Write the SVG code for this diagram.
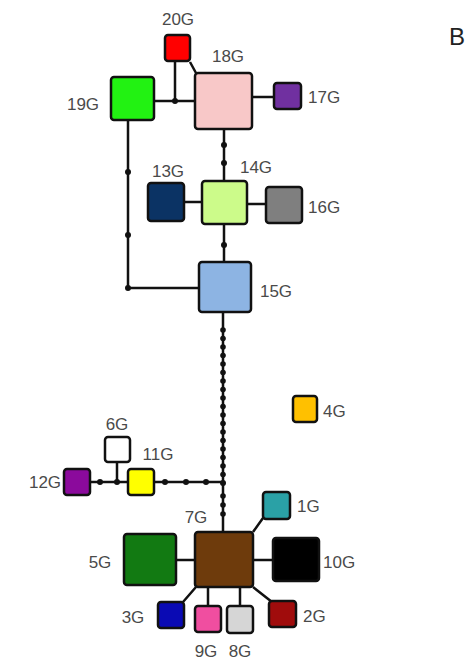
<svg xmlns="http://www.w3.org/2000/svg" width="469" height="668" viewBox="0 0 469 668">
<style>
.n{stroke:#111;stroke-width:2.5}
.l{fill:none;stroke:#111;stroke-width:2.5}
.t{font-family:"Liberation Sans",Arial,sans-serif;font-size:17px;fill:#4a4a4a}
.d{fill:#111}
</style>
<rect width="469" height="668" fill="#fff"/>
<g id="connectors">
<path class="l" d="M154 101H195M175 62V101M190 62L196 73M252 97H274"/>
<path class="l" d="M128 120V288H199M224 129V181M184 202H202M247 204H266M224 224V262"/>
<path class="l" d="M223 312V532M90 482H223M117 462V482M253 532L263 518"/>
<path class="l" d="M176 560H195M253 560H273M196 587L183 602M208 587V606M240 587V606M253 587L272 602"/>
<g class="d">
<circle cx="175" cy="101" r="3"/>
<circle cx="128" cy="172" r="3"/><circle cx="128" cy="235" r="3"/><circle cx="128" cy="288" r="3"/>
<circle cx="224" cy="145" r="3"/><circle cx="224" cy="163" r="3"/><circle cx="224" cy="245" r="3"/>
<circle cx="223" cy="330" r="2.8"/><circle cx="223" cy="338.5" r="2.8"/><circle cx="223" cy="347" r="2.8"/><circle cx="223" cy="355.5" r="2.8"/><circle cx="223" cy="364" r="2.8"/><circle cx="223" cy="372.5" r="2.8"/><circle cx="223" cy="381" r="2.8"/><circle cx="223" cy="389.5" r="2.8"/><circle cx="223" cy="398" r="2.8"/><circle cx="223" cy="406.5" r="2.8"/><circle cx="223" cy="415" r="2.8"/><circle cx="223" cy="423.5" r="2.8"/><circle cx="223" cy="432" r="2.8"/><circle cx="223" cy="440.5" r="2.8"/><circle cx="223" cy="449" r="2.8"/><circle cx="223" cy="457.5" r="2.8"/><circle cx="223" cy="466" r="2.8"/><circle cx="223" cy="474.5" r="2.8"/>
<circle cx="223" cy="483" r="3"/><circle cx="223" cy="496" r="2.8"/><circle cx="223" cy="505" r="2.8"/><circle cx="223" cy="514" r="2.8"/>
<circle cx="100" cy="482" r="3"/><circle cx="117" cy="482" r="3"/><circle cx="165" cy="482" r="3"/><circle cx="186" cy="482" r="3"/><circle cx="206" cy="482" r="3"/>
</g>
</g>
<g id="n20"><rect class="n" x="165" y="35" width="25" height="26" rx="3" fill="#f00"/><text class="t" x="178" y="25" text-anchor="middle">20G</text></g>
<g id="n18"><rect class="n" x="195" y="73" width="57" height="56" rx="3" fill="#f8c8c8"/><text class="t" x="228" y="62" text-anchor="middle">18G</text></g>
<g id="n19"><rect class="n" x="111" y="77" width="43" height="43" rx="3" fill="#22f212"/><text class="t" x="83" y="110" text-anchor="middle">19G</text></g>
<g id="n17"><rect class="n" x="274" y="83" width="27" height="26" rx="3" fill="#7030a0"/><text class="t" x="308" y="103">17G</text></g>
<g id="n14"><rect class="n" x="202" y="181" width="45" height="43" rx="3" fill="#ccfb8a"/><text class="t" x="256" y="173" text-anchor="middle">14G</text></g>
<g id="n13"><rect class="n" x="148" y="183" width="36" height="38" rx="3" fill="#0b3364"/><text class="t" x="168" y="177" text-anchor="middle">13G</text></g>
<g id="n16"><rect class="n" x="266" y="187" width="36" height="36" rx="3" fill="#7f7f7f"/><text class="t" x="308" y="213">16G</text></g>
<g id="n15"><rect class="n" x="199" y="262" width="52" height="50" rx="3" fill="#8db4e3"/><text class="t" x="276" y="297" text-anchor="middle">15G</text></g>
<g id="n4"><rect class="n" x="293" y="396" width="24" height="26" rx="3" fill="#ffc000"/><text class="t" x="323" y="417">4G</text></g>
<g id="n6"><rect class="n" x="105" y="437" width="25" height="25" rx="3" fill="#fff"/><text class="t" x="117" y="430" text-anchor="middle">6G</text></g>
<g id="n12"><rect class="n" x="64" y="469" width="26" height="26" rx="3" fill="#8b0a9c"/><text class="t" x="45" y="488" text-anchor="middle">12G</text></g>
<g id="n11"><rect class="n" x="128" y="469" width="26" height="26" rx="3" fill="#ffff00"/><text class="t" x="158" y="460" text-anchor="middle">11G</text></g>
<g id="n1"><rect class="n" x="263" y="492" width="27" height="27" rx="3" fill="#2aa1a6"/><text class="t" x="297" y="512">1G</text></g>
<g id="n7"><rect class="n" x="195" y="532" width="58" height="55" rx="3" fill="#6e3b0c"/><text class="t" x="196" y="523" text-anchor="middle">7G</text></g>
<g id="n5"><rect class="n" x="124" y="534" width="52" height="51" rx="3" fill="#127a12"/><text class="t" x="100" y="568" text-anchor="middle">5G</text></g>
<g id="n10"><rect class="n" x="273" y="538" width="46" height="43" rx="3" fill="#000"/><text class="t" x="323" y="568">10G</text></g>
<g id="n3"><rect class="n" x="158" y="602" width="26" height="26" rx="3" fill="#0a0ab4"/><text class="t" x="133" y="623" text-anchor="middle">3G</text></g>
<g id="n9"><rect class="n" x="195" y="606" width="26" height="26" rx="3" fill="#f04ea0"/><text class="t" x="206" y="657" text-anchor="middle">9G</text></g>
<g id="n8"><rect class="n" x="227" y="606" width="26" height="27" rx="3" fill="#d6d6d6"/><text class="t" x="240" y="657" text-anchor="middle">8G</text></g>
<g id="n2"><rect class="n" x="269" y="601" width="27" height="26" rx="3" fill="#a00c0c"/><text class="t" x="303" y="622">2G</text></g>
<text x="449" y="45" style="font-family:'Liberation Sans',Arial,sans-serif;font-size:24px;fill:#222">B</text>
</svg>
